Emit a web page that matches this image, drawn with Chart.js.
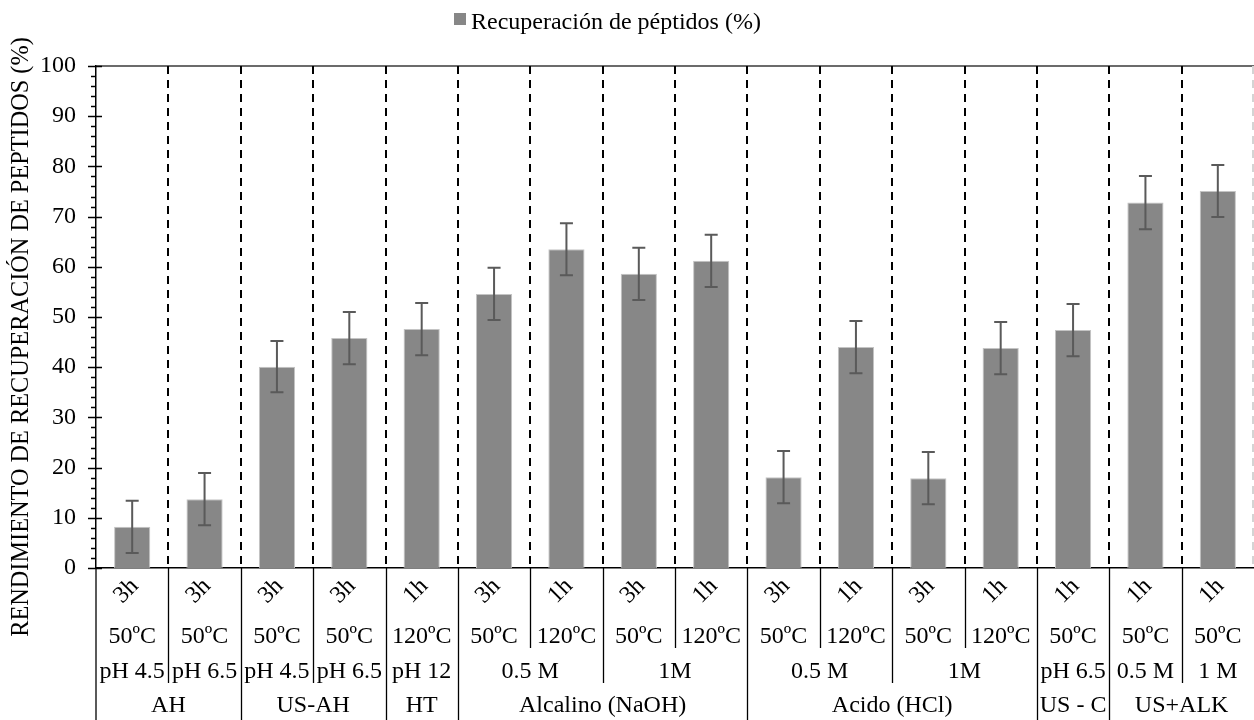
<!DOCTYPE html>
<html>
<head>
<meta charset="utf-8">
<script src="https://cdn.jsdelivr.net/npm/chart.js@4"></script>
<style>
  html, body { margin: 0; padding: 0; background: #fff; }
  canvas { display: block; }
</style>
</head>
<body>
<canvas id="chart" width="1254" height="720"></canvas>
<script>
// Extraction conditions, one entry per bar (four label levels under the axis)
const times = ['3h', '3h', '3h', '3h', '1h', '3h', '1h', '3h', '1h', '3h', '1h', '3h', '1h', '1h', '1h', '1h'];
const temps = ['50ºC', '50ºC', '50ºC', '50ºC', '120ºC', '50ºC', '120ºC', '50ºC', '120ºC', '50ºC', '120ºC', '50ºC', '120ºC', '50ºC', '50ºC', '50ºC'];
const conditions = ['pH 4.5', 'pH 6.5', 'pH 4.5', 'pH 6.5', 'pH 12', '0.5 M', '0.5 M', '1M', '1M', '0.5 M', '0.5 M', '1M', '1M', 'pH 6.5', '0.5 M', '1 M'];
const methods = ['AH', 'AH', 'US-AH', 'US-AH', 'HT',
  'Alcalino (NaOH)', 'Alcalino (NaOH)', 'Alcalino (NaOH)', 'Alcalino (NaOH)',
  'Acido (HCl)', 'Acido (HCl)', 'Acido (HCl)', 'Acido (HCl)',
  'US - C', 'US+ALK', 'US+ALK'];

// Peptide recovery (%) and its error
const recovery = [8.2, 13.7, 40.1, 45.8, 47.6, 54.6, 63.5, 58.6, 61.2, 18.1, 44.0, 17.9, 43.8, 47.4, 72.8, 75.1];
const recoveryError = [5.2, 5.2, 5.1, 5.2, 5.2, 5.2, 5.2, 5.2, 5.2, 5.2, 5.2, 5.2, 5.2, 5.2, 5.3, 5.2];

const seriesLabel = 'Recuperación de péptidos (%)';
const yAxisTitle = 'RENDIMIENTO DE RECUPERACIÓN DE PEPTIDOS (%)';

const SERIF = "'Liberation Serif', 'Times New Roman', serif";
const BAR_COLOR = '#878787';

// Group consecutive equal labels into spans; optional parent level splits spans too
function spans(level, parent) {
  const out = [];
  level.forEach((lab, i) => {
    const last = out[out.length - 1];
    if (last && last.label === lab && (!parent || parent[i] === parent[last.start])) {
      last.end = i;
    } else {
      out.push({ label: lab, start: i, end: i });
    }
  });
  return out;
}

// Dashed separators, top frame line and y tick marks
const framePlugin = {
  id: 'frame',
  beforeDatasetsDraw(chart) {
    const { ctx, chartArea: a, scales: { x, y } } = chart;
    ctx.save();
    ctx.strokeStyle = '#3a3a3a';
    ctx.lineWidth = 1.5;
    ctx.beginPath();
    ctx.moveTo(a.left, a.top);
    ctx.lineTo(a.right, a.top);
    ctx.stroke();

    ctx.strokeStyle = '#000';
    ctx.lineWidth = 2;
    ctx.setLineDash([8, 6]);
    for (let i = 1; i < recovery.length; i++) {
      const bx = Math.round((x.getPixelForValue(i - 1) + x.getPixelForValue(i)) / 2);
      ctx.beginPath();
      ctx.moveTo(bx, a.top);
      ctx.lineTo(bx, a.bottom);
      ctx.stroke();
    }
    ctx.strokeStyle = '#d4d4d4';
    ctx.beginPath();
    ctx.moveTo(a.right - 1, a.top);
    ctx.lineTo(a.right - 1, a.bottom);
    ctx.stroke();
    ctx.setLineDash([]);

    // y tick marks: majors cross the axis, minors sit outside
    ctx.strokeStyle = '#000';
    ctx.lineWidth = 1.5;
    for (let v = y.min; v <= y.max; v += 2) {
      const py = Math.round(y.getPixelForValue(v)) + 0.5;
      const major = v % 10 === 0;
      ctx.beginPath();
      ctx.moveTo(a.left - (major ? 8 : 5), py);
      ctx.lineTo(a.left + (major ? 6 : 0), py);
      ctx.stroke();
    }
    ctx.restore();
  }
};

// Error bars with caps
const errorBarPlugin = {
  id: 'errorBars',
  afterDatasetsDraw(chart) {
    const { ctx, scales: { y } } = chart;
    const meta = chart.getDatasetMeta(0);
    ctx.save();
    ctx.strokeStyle = '#5a5a5a';
    ctx.lineWidth = 2;
    meta.data.forEach((bar, i) => {
      const top = y.getPixelForValue(recovery[i] + recoveryError[i]);
      const bottom = y.getPixelForValue(recovery[i] - recoveryError[i]);
      ctx.beginPath();
      ctx.moveTo(bar.x, top);
      ctx.lineTo(bar.x, bottom);
      ctx.moveTo(bar.x - 6.5, top);
      ctx.lineTo(bar.x + 6.5, top);
      ctx.moveTo(bar.x - 6.5, bottom);
      ctx.lineTo(bar.x + 6.5, bottom);
      ctx.stroke();
    });
    ctx.restore();
  }
};

// Multi-level category table under the x axis, legend and y-axis title
const tablePlugin = {
  id: 'categoryTable',
  afterDraw(chart) {
    const { ctx, chartArea: a, scales: { x }, height } = chart;
    const n = recovery.length;
    const cx = i => x.getPixelForValue(i);
    const edge = i => (i <= 0) ? a.left : (i >= n) ? a.right : (cx(i - 1) + cx(i)) / 2;

    ctx.save();
    ctx.strokeStyle = '#000';
    ctx.lineWidth = 1.3;
    // left edge of the table
    ctx.beginPath();
    ctx.moveTo(a.left, a.bottom);
    ctx.lineTo(a.left, height);
    ctx.stroke();
    for (let i = 1; i < n; i++) {
      const bx = Math.round(edge(i)) + 0.5;
      let yEnd;
      if (methods[i] !== methods[i - 1]) yEnd = height;
      else if (conditions[i] !== conditions[i - 1]) yEnd = 683;
      else yEnd = 648;
      ctx.beginPath();
      ctx.moveTo(bx, a.bottom);
      ctx.lineTo(bx, yEnd);
      ctx.stroke();
    }

    ctx.fillStyle = '#000';
    ctx.font = '24px ' + SERIF;
    ctx.textAlign = 'center';

    // time, rotated
    times.forEach((t, i) => {
      ctx.save();
      ctx.translate(cx(i) - 6, 591);
      ctx.rotate(-Math.PI / 4);
      ctx.textBaseline = 'middle';
      ctx.fillText(t, 0, 0);
      ctx.restore();
    });
    ctx.textBaseline = 'alphabetic';
    temps.forEach((t, i) => ctx.fillText(t, cx(i), 643));
    spans(conditions, methods).forEach(s => {
      ctx.fillText(s.label, (edge(s.start) + edge(s.end + 1)) / 2, 678);
    });
    spans(methods).forEach(s => {
      ctx.fillText(s.label, (edge(s.start) + edge(s.end + 1)) / 2, 712);
    });

    // legend
    const ds = chart.data.datasets[0];
    ctx.textAlign = 'left';
    ctx.fillStyle = ds.backgroundColor;
    ctx.fillRect(454, 13, 12, 12);
    ctx.fillStyle = '#000';
    ctx.fillText(ds.label, 471, 29);

    // y-axis title
    ctx.save();
    ctx.translate(28, 337);
    ctx.rotate(-Math.PI / 2);
    ctx.textAlign = 'center';
    ctx.font = '24.3px ' + SERIF;
    ctx.fillText(yAxisTitle, 0, 0);
    ctx.restore();

    ctx.restore();
  }
};

new Chart(document.getElementById('chart'), {
  type: 'bar',
  data: {
    labels: methods.map((m, i) => `${m} ${conditions[i]} ${temps[i]} ${times[i]}`),
    datasets: [{
      label: seriesLabel,
      data: recovery,
      backgroundColor: BAR_COLOR,
      borderColor: '#c4c4c4',
      borderWidth: 1,
      categoryPercentage: 1,
      barPercentage: 0.5
    }]
  },
  options: {
    responsive: false,
    animation: false,
    devicePixelRatio: 1,
    layout: { padding: { top: 66, left: 0, right: 0, bottom: 0 } },
    plugins: {
      legend: { display: false },
      tooltip: { enabled: false }
    },
    scales: {
      x: {
        grid: { display: false },
        ticks: { display: false },
        border: { display: true, color: '#000', width: 1.5 },
        afterFit(scale) { scale.height = 152; }
      },
      y: {
        min: 0,
        max: 100,
        grid: { display: false },
        border: { display: true, color: '#000', width: 1.5 },
        ticks: {
          stepSize: 10,
          padding: 12,
          color: '#000',
          font: { family: SERIF, size: 24 }
        },
        afterFit(scale) { scale.width = 96; }
      }
    }
  },
  plugins: [framePlugin, errorBarPlugin, tablePlugin]
});
</script>
</body>
</html>
